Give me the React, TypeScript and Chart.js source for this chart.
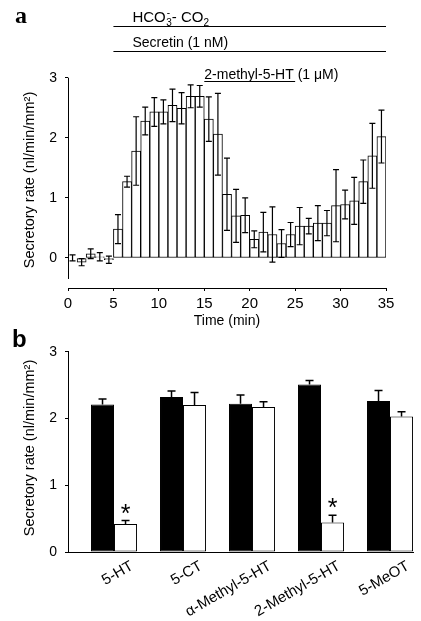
import React, { useEffect, useRef } from "react";
import { Chart, registerables } from "chart.js";

Chart.register(...registerables);

const FONT = '"Liberation Sans", Arial, Helvetica, sans-serif';

// ---------- Panel a data ----------
const timeStart = [
  0, 1, 2, 3, 4, 5, 6, 7, 8, 9, 10, 11, 12, 13, 14, 15, 16, 17, 18, 19, 20, 21, 22, 23, 24, 25, 26, 27, 28, 29, 30, 31, 32, 33, 34,
];
const rateA = [
  0.0, -0.07, 0.07, 0.02, -0.03, 0.48, 1.27, 1.78, 2.28, 2.43, 2.43, 2.54, 2.49, 2.69, 2.69, 2.31, 2.06, 1.06, 0.7, 0.71, 0.31,
  0.43, 0.39, 0.24, 0.39, 0.53, 0.53, 0.58, 0.58, 0.87, 0.89, 0.95, 1.27, 1.7, 2.02,
];
const errA = [
  0.05, 0.06, 0.08, 0.07, 0.06, 0.24, 0.09, 0.57, 0.23, 0.24, 0.2, 0.27, 0.26, 0.19, 0.18, 0.37, 0.68, 0.6, 0.44, 0.29, 0.14,
  0.33, 0.46, 0.23, 0.2, 0.31, 0.13, 0.29, 0.21, 0.6, 0.24, 0.39, 0.36, 0.54, 0.44,
];
const yTicksA = [0, 1, 2, 3];
const periodHCO3 = [5, 35];
const periodSecretin = [5, 35];
const periodMethyl = [15, 25];

// ---------- Panel b data ----------
const drugs = ["5-HT", "5-CT", "α-Methyl-5-HT", "2-Methyl-5-HT", "5-MeOT"];
const rateControl = [2.21, 2.32, 2.22, 2.51, 2.26];
const errControl = [0.08, 0.09, 0.13, 0.06, 0.16];
const rateDrug = [0.42, 2.2, 2.17, 0.44, 2.03];
const errDrug = [0.05, 0.19, 0.08, 0.11, 0.07];
const significant = [true, false, false, true, false];

const Y_TITLE = "Secretory rate (nl/min/mm²)";

const panelAPlugin = {
  id: "panelA",
  afterDatasetsDraw(chart: any) {
    const { ctx, chartArea } = chart;
    const x = chart.scales.x;
    const y = chart.scales.y;
    ctx.save();
    ctx.strokeStyle = "#000";
    ctx.fillStyle = "#000";
    // error bars
    ctx.lineWidth = 1.2;
    rateA.forEach((v, i) => {
      const cx = x.getPixelForValue(timeStart[i] + 0.5);
      const t = y.getPixelForValue(v + errA[i]);
      const b = y.getPixelForValue(v - errA[i]);
      ctx.beginPath();
      ctx.moveTo(cx, t);
      ctx.lineTo(cx, b);
      ctx.moveTo(cx - 3, t);
      ctx.lineTo(cx + 3, t);
      ctx.moveTo(cx - 3, b);
      ctx.lineTo(cx + 3, b);
      ctx.stroke();
    });
    // y axis line
    ctx.lineWidth = 1;
    const ax = Math.round(chartArea.left) + 0.5;
    ctx.beginPath();
    ctx.moveTo(ax, y.getPixelForValue(3));
    ctx.lineTo(ax, y.getPixelForValue(-0.35));
    ctx.stroke();

    // treatment bars
    const hline = (x0: number, x1: number, yy: number) => {
      ctx.beginPath();
      ctx.moveTo(x.getPixelForValue(x0), yy);
      ctx.lineTo(x.getPixelForValue(x1), yy);
      ctx.stroke();
    };
    hline(periodHCO3[0], periodHCO3[1], 26.5);
    hline(periodSecretin[0], periodSecretin[1], 51.5);

    ctx.textAlign = "left";
    ctx.textBaseline = "alphabetic";
    // HCO3- - CO2
    let tx = x.getPixelForValue(periodHCO3[0]) + 19;
    ctx.font = `15px ${FONT}`;
    ctx.fillText("HCO", tx, 22);
    tx += ctx.measureText("HCO").width + 0.5;
    ctx.font = `10px ${FONT}`;
    ctx.fillText("3", tx, 25.5);
    ctx.fillText("-", tx + 0.5, 16);
    tx += ctx.measureText("3").width;
    ctx.font = `15px ${FONT}`;
    ctx.fillText("- CO", tx, 22);
    tx += ctx.measureText("- CO").width;
    ctx.font = `10px ${FONT}`;
    ctx.fillText("2", tx, 25.5);

    // Secretin
    ctx.font = `14px ${FONT}`;
    ctx.fillText("Secretin (1 nM)", x.getPixelForValue(periodSecretin[0]) + 19, 47);

    // 2-methyl-5-HT
    const mx = x.getPixelForValue(periodMethyl[0]);
    ctx.fillText("2-methyl-5-HT (1 μM)", mx, 79);
    hline(periodMethyl[0], periodMethyl[1], 81.5);

    // y title
    ctx.save();
    ctx.translate(30, 180);
    ctx.rotate(-Math.PI / 2);
    ctx.textAlign = "center";
    ctx.textBaseline = "middle";
    ctx.font = `14.5px ${FONT}`;
    ctx.fillText(Y_TITLE, 0, 0);
    ctx.restore();

    // panel letter
    ctx.font = `bold 24px "Liberation Serif", "Times New Roman", serif`;
    ctx.fillText("a", 15, 23);
    ctx.restore();
  },
};

const panelBPlugin = {
  id: "panelB",
  afterDatasetsDraw(chart: any) {
    const { ctx, chartArea } = chart;
    const y = chart.scales.y;
    const m0 = chart.getDatasetMeta(0).data;
    const m1 = chart.getDatasetMeta(1).data;
    ctx.save();
    ctx.strokeStyle = "#000";
    ctx.fillStyle = "#000";
    ctx.lineWidth = 1.5;
    const err = (cx: number, v: number, e: number) => {
      const t = y.getPixelForValue(v + e);
      const b = y.getPixelForValue(v);
      ctx.beginPath();
      ctx.moveTo(cx, b);
      ctx.lineTo(cx, t);
      ctx.moveTo(cx - 4, t);
      ctx.lineTo(cx + 4, t);
      ctx.stroke();
    };
    drugs.forEach((_, i) => {
      err(m0[i].x, rateControl[i], errControl[i]);
      err(m1[i].x, rateDrug[i], errDrug[i]);
      if (significant[i]) {
        ctx.font = `25px ${FONT}`;
        ctx.textAlign = "center";
        ctx.textBaseline = "alphabetic";
        ctx.fillText("*", m1[i].x, y.getPixelForValue(rateDrug[i] + errDrug[i]) + 1);
      }
      // rotated category label
      const cx = (m0[i].x + m1[i].x) / 2;
      ctx.save();
      ctx.translate(cx + 18, chartArea.bottom + 13);
      ctx.rotate(-Math.PI / 6);
      ctx.textAlign = "right";
      ctx.textBaseline = "middle";
      ctx.font = `15px ${FONT}`;
      ctx.fillText(drugs[i], 0, 0);
      ctx.restore();
    });

    // y title
    ctx.save();
    ctx.translate(30, 128);
    ctx.rotate(-Math.PI / 2);
    ctx.textAlign = "center";
    ctx.textBaseline = "middle";
    ctx.font = `14.5px ${FONT}`;
    ctx.fillText(Y_TITLE, 0, 0);
    ctx.restore();

    ctx.textAlign = "left";
    ctx.textBaseline = "alphabetic";
    ctx.font = `bold 24px ${FONT}`;
    ctx.fillText("b", 12, 27);
    ctx.restore();
  },
};

export default function App() {
  const refA = useRef<HTMLCanvasElement>(null);
  const refB = useRef<HTMLCanvasElement>(null);

  useEffect(() => {
    const tickFont = { size: 14, family: FONT };
    const xTickFont = { size: 15, family: FONT };
    const chartA = new Chart(refA.current as HTMLCanvasElement, {
      type: "bar",
      data: {
        datasets: [
          {
            data: rateA.map((v, i) => ({ x: timeStart[i] + 0.5, y: v })),
            backgroundColor: "#fff",
            borderColor: "#000",
            borderWidth: 1,
            borderSkipped: false,
            barPercentage: 1,
            categoryPercentage: 1,
          } as any,
        ],
      },
      options: {
        responsive: false,
        animation: false,
        devicePixelRatio: 1,
        events: [],
        layout: { padding: { top: 77.7, right: 35, bottom: 0, left: 0 } },
        plugins: { legend: { display: false }, tooltip: { enabled: false } },
        scales: {
          x: {
            type: "linear",
            min: 0,
            max: 35,
            offset: false,
            ticks: { stepSize: 5, color: "#000", font: xTickFont, padding: 4, maxRotation: 0 },
            grid: { offset: false, drawOnChartArea: false, drawTicks: true, tickLength: 3, color: "#000" },
            border: { display: true, color: "#000", width: 1 },
            title: { display: true, text: "Time (min)", color: "#000", font: tickFont, padding: 0 },
            afterFit: (s: any) => {
              s.height = 42;
            },
          },
          y: {
            type: "linear",
            min: -0.5,
            max: 3,
            afterBuildTicks: (s: any) => {
              s.ticks = yTicksA.map((v) => ({ value: v }));
            },
            ticks: { color: "#000", font: tickFont, padding: 8 },
            grid: { drawOnChartArea: false, tickLength: 3, color: "#000" },
            border: { display: false },
            afterFit: (s: any) => {
              s.width = 68;
            },
          },
        },
      } as any,
      plugins: [panelAPlugin],
    });

    const chartB = new Chart(refB.current as HTMLCanvasElement, {
      type: "bar",
      data: {
        datasets: [
          {
            label: "control",
            data: rateControl.map((v, i) => ({ x: i, y: v })),
            backgroundColor: "#000",
            borderColor: "#000",
            borderWidth: 1,
            borderSkipped: false,
            barPercentage: 1,
            categoryPercentage: 0.667,
          } as any,
          {
            label: "agonist",
            data: rateDrug.map((v, i) => ({ x: i, y: v })),
            backgroundColor: "#fff",
            borderColor: "#000",
            borderWidth: 1,
            borderSkipped: false,
            barPercentage: 1,
            categoryPercentage: 0.667,
          } as any,
        ],
      },
      options: {
        responsive: false,
        animation: false,
        devicePixelRatio: 1,
        events: [],
        layout: { padding: { top: 31.7, right: 8, bottom: 0, left: 0 } },
        plugins: { legend: { display: false }, tooltip: { enabled: false } },
        scales: {
          x: {
            type: "linear",
            min: -0.667,
            max: 4.333,
            offset: false,
            ticks: { display: false },
            grid: { display: false, offset: false },
            border: { display: true, color: "#000", width: 1 },
            afterFit: (s: any) => {
              s.height = 69;
            },
          },
          y: {
            type: "linear",
            min: 0,
            max: 3,
            ticks: { stepSize: 1, color: "#000", font: tickFont, padding: 8 },
            grid: { drawOnChartArea: false, tickLength: 3, color: "#000" },
            border: { display: true, color: "#000", width: 1 },
            afterFit: (s: any) => {
              s.width = 68;
            },
          },
        },
      } as any,
      plugins: [panelBPlugin],
    });

    return () => {
      chartA.destroy();
      chartB.destroy();
    };
  }, []);

  return (
    <div style={{ position: "fixed", left: 0, top: 0, width: 421, height: 621, background: "#fff" }}>
      <canvas
        ref={refA}
        width={421}
        height={330}
        style={{ position: "absolute", left: 0, top: 0, width: 421, height: 330 }}
      />
      <canvas
        ref={refB}
        width={421}
        height={301}
        style={{ position: "absolute", left: 0, top: 320, width: 421, height: 301 }}
      />
    </div>
  );
}
